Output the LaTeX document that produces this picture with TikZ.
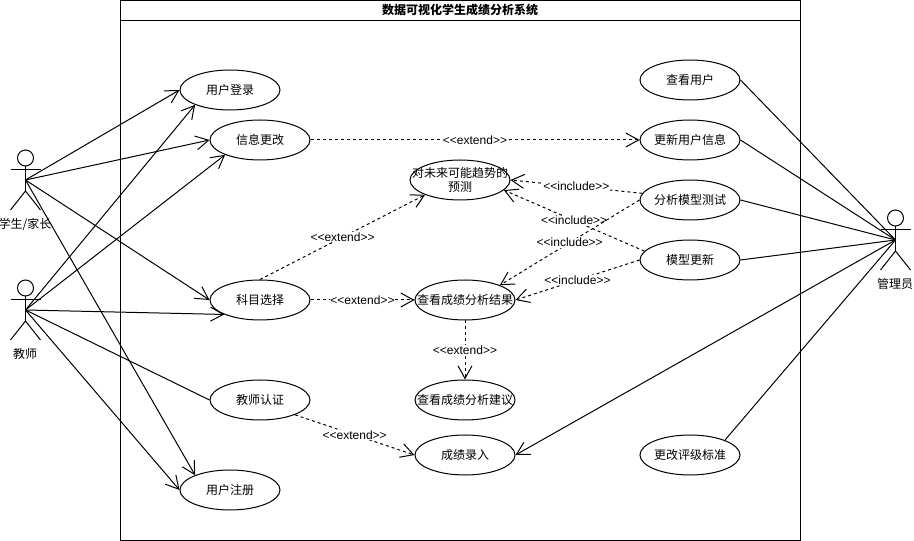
\documentclass[tikz,border=0pt]{standalone}
\usepackage{fontspec}
\usepackage{tikz}
\usepackage{xcolor}
\usetikzlibrary{arrows.meta,shapes.geometric}

\setmainfont{Liberation Sans}
\newfontfamily\cjk{Noto Sans CJK SC}
\newcommand{\stereo}[1]{<{}<#1>{}>}

\tikzset{
    usecase/.style={ellipse, draw, minimum width=75pt, minimum height=30pt, inner xsep=-22pt, inner ysep=-9pt, align=center, font=\cjk\fontsize{9}{10.8}\selectfont},
    actorname/.style={font=\cjk\fontsize{9}{10.8}\selectfont, inner sep=0pt},
    stereotype/.style={font=\fontsize{9}{10.8}\selectfont, fill=white, inner sep=0.5pt},
    assoc/.style={-{Straight Barb[length=9.5pt,width=10.5pt]}},
    dep/.style={assoc, dash pattern=on 2.25pt off 2.25pt},
    actor/.pic={
        \draw (0,-22) circle[radius=6pt];
        \draw (0,-14) -- (0,11);
        \draw (-15,-10) -- (15,-10);
        \draw (-15,30) -- (0,11) -- (15,30);
    }
}

\begin{document}
\begin{tikzpicture}[x=0.75pt, y=-0.75pt, line width=0.75pt]

        \useasboundingbox (0,0) rectangle (914,541);

        % system frame
        \draw (120.5,0.5) rectangle (800.5,540.5);
        \draw (120.5,20.5) -- (800.5,20.5);
        \node[font=\cjk\bfseries\fontsize{9}{10.8}\selectfont] (title) at (460,10) {数据可视化学生成绩分析系统};

        % actors
        \coordinate (student) at (25.5,180);
        \coordinate (teacher) at (25.5,310);
        \coordinate (admin) at (895.5,240);
        \pic at (student) {actor};
        \pic at (teacher) {actor};
        \pic at (admin) {actor};
        \node[actorname] (studentname) at (25,224) {学生/家长};
        \node[actorname] (teachername) at (25,354) {教师};
        \node[actorname] (adminname) at (895,284) {管理员};

        % left use cases
        \node[usecase] (login) at (230,90) {用户登录};
        \node[usecase] (edit) at (260,140) {信息更改};
        \node[usecase] (course) at (260,300) {科目选择};
        \node[usecase] (auth) at (260,400) {教师认证};
        \node[usecase] (signup) at (230,490) {用户注册};

        % middle use cases
        \node[usecase] (predict) at (460,180) {对未来可能趋势的\\预测};
        \node[usecase] (result) at (465,300) {查看成绩分析结果};
        \node[usecase] (advice) at (465,400) {查看成绩分析建议};
        \node[usecase] (score) at (465,455) {成绩录入};

        % right use cases
        \node[usecase] (viewuser) at (690,80) {查看用户};
        \node[usecase] (updateuser) at (690,140) {更新用户信息};
        \node[usecase] (modeltest) at (690,200) {分析模型测试};
        \node[usecase] (modelupdate) at (690,260) {模型更新};
        \node[usecase] (grade) at (690,455) {更改评级标准};

        % student and teacher
        \draw[assoc] (student) -- (login.west);
        \draw[assoc] (student) -- (edit.west);
        \draw[assoc] (student) -- (course.west);
        \draw[assoc] (student) -- (signup.157);
        \draw[assoc] (teacher) -- (login.203);
        \draw[assoc] (teacher) -- (edit.203);
        \draw[assoc] (teacher) -- (course.202);
        \draw (teacher) -- (auth.west);
        \draw[assoc] (teacher) -- (signup.west);

        % admin
        \draw (admin) -- (viewuser.east);
        \draw (admin) -- (updateuser.east);
        \draw (admin) -- (modeltest.east);
        \draw (admin) -- (modelupdate.east);
        \draw (admin) -- (grade.23);
        \draw[assoc] (admin) -- (score.east);

        % extend and include
        \draw[dep] (edit.east) -- node[stereotype] (extend1) {\stereo{extend}} (updateuser.west);
        \draw[dep] (course.north) -- node[stereotype] (extend2) {\stereo{extend}} (predict.203);
        \draw[dep] (course.east) -- node[stereotype] (extend3) {\stereo{extend}} (result.west);
        \draw[dep] (result.south) -- node[stereotype] (extend4) {\stereo{extend}} (advice.north);
        \draw[dep] (auth.337) -- node[stereotype] (extend5) {\stereo{extend}} (score.west);
        \draw[dep] (modeltest.172) -- node[stereotype] (include1) {\stereo{include}} (predict.east);
        \draw[dep] (modelupdate.169) -- node[stereotype] (include2) {\stereo{include}} (predict.347);
        \draw[dep] (modeltest.west) -- node[stereotype] (include3) {\stereo{include}} (result.23);
        \draw[dep] (modelupdate.west) -- node[stereotype] (include4) {\stereo{include}} (result.east);

\end{tikzpicture}
\end{document}
